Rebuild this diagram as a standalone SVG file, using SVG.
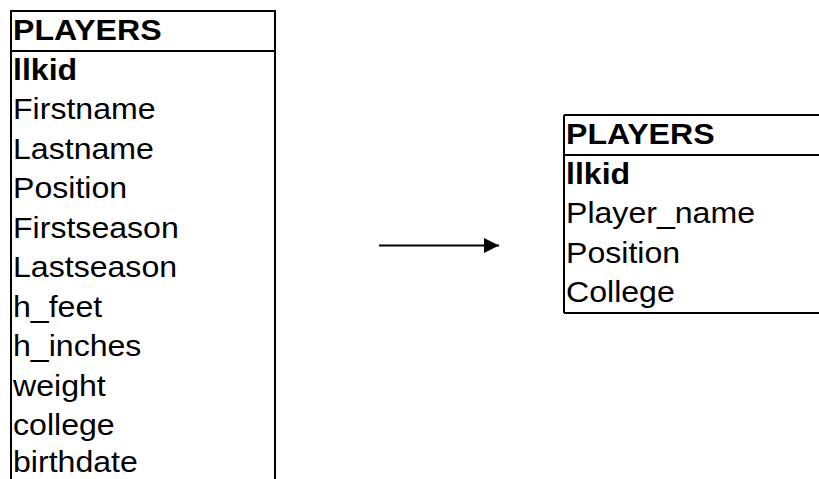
<svg xmlns="http://www.w3.org/2000/svg" width="819" height="479" viewBox="0 0 819 479">
  <style>
    .frame { fill: none; stroke: #000; stroke-width: 2; }
    .t { font-family: "Liberation Sans", Arial, sans-serif; font-size: 30px; fill: #000; }
    .b { font-weight: bold; }
  </style>
  <defs>
    <marker id="arrowhead" markerWidth="16" markerHeight="16" refX="15" refY="7.5" orient="auto" markerUnits="userSpaceOnUse">
      <path d="M0,0 L15,7.5 L0,15 Z" fill="#000"/>
    </marker>
  </defs>
  <rect width="819" height="479" fill="#fff"/>

  <!-- original table -->
  <g id="players-before">
    <path class="frame" d="M11,479 V11 H275 V479 M11,51 H275"/>
    <g transform="translate(13,0) scale(1.07,1)">
      <text class="t b" x="0" y="40.5">PLAYERS</text>
      <text class="t b" x="0" y="80">llkid</text>
      <text class="t" x="0" y="119.5">Firstname</text>
      <text class="t" x="0" y="159">Lastname</text>
      <text class="t" x="0" y="198.5">Position</text>
      <text class="t" x="0" y="238">Firstseason</text>
      <text class="t" x="0" y="277.5">Lastseason</text>
      <text class="t" x="0" y="317">h_feet</text>
      <text class="t" x="0" y="356.5">h_inches</text>
      <text class="t" x="0" y="396">weight</text>
      <text class="t" x="0" y="435.5">college</text>
      <text class="t" x="0" y="472">birthdate</text>
    </g>
  </g>

  <!-- reduced table -->
  <g id="players-after">
    <path class="frame" d="M564,115 H820 M564,155 H820 M564,313 H820 M564,115 V313"/>
    <g transform="translate(566,0) scale(1.07,1)">
      <text class="t b" x="0" y="144.5">PLAYERS</text>
      <text class="t b" x="0" y="184">llkid</text>
      <text class="t" x="0" y="223.5">Player_name</text>
      <text class="t" x="0" y="263">Position</text>
      <text class="t" x="0" y="302.5">College</text>
    </g>
  </g>

  <g id="connectors">
    <line x1="379" y1="245.5" x2="499" y2="245.5" stroke="#000" stroke-width="2" marker-end="url(#arrowhead)"/>
  </g>
</svg>
